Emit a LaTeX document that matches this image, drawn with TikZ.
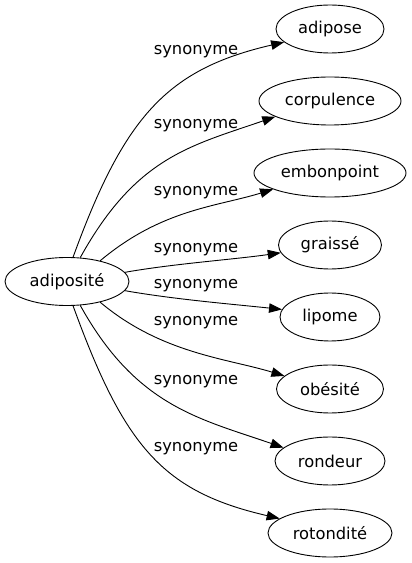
\documentclass[tikz,border=0pt]{standalone}
\usepackage{fontspec}
\setmainfont{DejaVu Sans}
\usetikzlibrary{shapes.geometric,arrows.meta}

\tikzset{
	word/.style={ellipse, draw, line width=0.9pt, minimum height=48pt, inner sep=0pt},
	rel/.style={font=\fontsize{16.3}{19}\selectfont},
	synarrow/.style={line width=0.9pt, -{Triangle[length=13pt,width=9.5pt]}}
}

\begin{document}
\begin{tikzpicture}[x=1pt, y=1pt, font=\fontsize{16.3}{19}\selectfont]
	\useasboundingbox (0,0) rectangle (412,563);
	\node[word, minimum width=124pt] (adiposite) at (67,281.5) {adiposité};
	\node[word, minimum width=108pt] (adipose) at (330,534) {adipose};
	\node[word, minimum width=142pt] (corpulence) at (330,462) {corpulence};
	\node[word, minimum width=152pt] (embonpoint) at (330,390) {embonpoint};
	\node[word, minimum width=103pt] (graisse) at (330,318) {graissé};
	\node[word, minimum width=100pt] (lipome) at (330,246) {lipome};
	\node[word, minimum width=107pt] (obesite) at (330,174) {obésité};
	\node[word, minimum width=110pt] (rondeur) at (330,102) {rondeur};
	\node[word, minimum width=124pt] (rotondite) at (330,30) {rotondité};

	\draw[synarrow] (adiposite.76) .. controls +(70:150) and +(193:120) .. (adipose.196);
	\draw[synarrow] (adiposite.61) .. controls +(61:115) and +(199:90) .. (corpulence.196);
	\draw[synarrow] (adiposite.32) .. controls +(40:80) and +(197:60) .. (embonpoint.196);
	\draw[synarrow] (adiposite.9) .. controls +(10:50) and +(188:50) .. (graisse.189);
	\draw[synarrow] (adiposite.-9) .. controls +(-10:50) and +(174:50) .. (lipome.171);
	\draw[synarrow] (adiposite.-32) .. controls +(-40:80) and +(163:60) .. (obesite.164);
	\draw[synarrow] (adiposite.-61) .. controls +(-61:115) and +(161:90) .. (rondeur.164);
	\draw[synarrow] (adiposite.-76) .. controls +(-70:150) and +(167:120) .. (rotondite.164);

	\node[rel] (s1) at (196,511) {synonyme};
	\node[rel] (s2) at (196,437) {synonyme};
	\node[rel] (s3) at (196,370) {synonyme};
	\node[rel] (s4) at (196,313) {synonyme};
	\node[rel] (s5) at (196,277) {synonyme};
	\node[rel] (s6) at (196,240) {synonyme};
	\node[rel] (s7) at (196,181) {synonyme};
	\node[rel] (s8) at (196,114) {synonyme};
\end{tikzpicture}
\end{document}
